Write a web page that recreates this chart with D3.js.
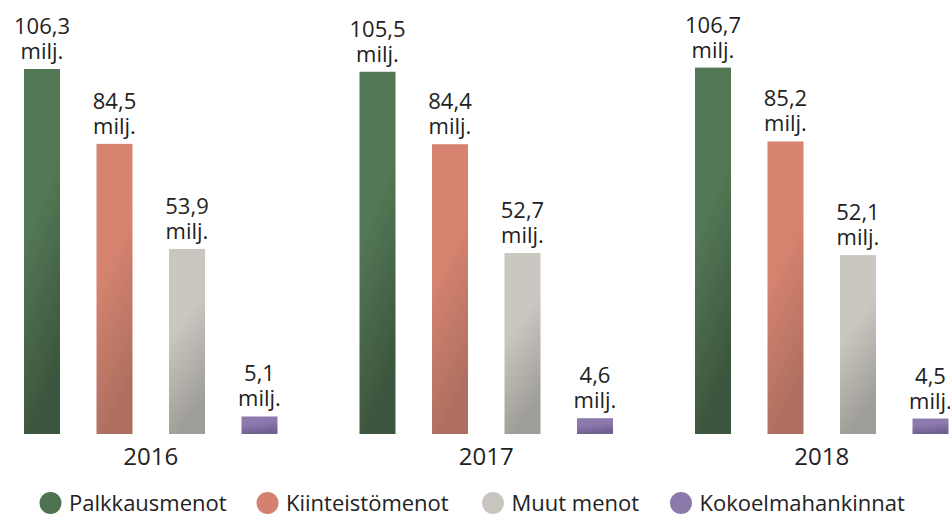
<!DOCTYPE html>
<html lang="fi">
<head>
  <meta charset="UTF-8">
  <title>Menot 2016-2018</title>
  <script src="https://cdn.jsdelivr.net/npm/d3@7"></script>
  <style>
    html, body { margin: 0; padding: 0; background: #ffffff; }
    svg { display: block; font-family: "Open Sans", Lato, sans-serif; }
    .value { fill: #222222; font-size: 22px; text-anchor: middle; }
    .year { fill: #222222; font-size: 24px; text-anchor: middle; }
    .legend text { fill: #222222; font-size: 22px; }
  </style>
</head>
<body>
  <div class="chart"></div>
  <script>
    // data
    const years = ['2016', '2017', '2018'];
    const series = ['Palkkausmenot', 'Kiinteistömenot', 'Muut menot', 'Kokoelmahankinnat'];
    const palkkaus = [106.3, 105.5, 106.7];
    const kiinteisto = [84.5, 84.4, 85.2];
    const muut = [53.9, 52.7, 52.1];
    const kokoelma = [5.1, 4.6, 4.5];

    const values = [palkkaus, kiinteisto, muut, kokoelma];
    const colorsTop = ['#537855', '#d6846f', '#cac7c1', '#8c7aae'];
    const colorsBottom = ['#3c553e', '#ae6f60', '#9f9d97', '#6d618e'];
    const legendColors = ['#4f7351', '#d4816f', '#c9c6c0', '#8a79ab'];

    const rows = [];
    years.forEach(function(y, i) {
      series.forEach(function(s, j) {
        rows.push({ year: y, series: s, idx: j, value: values[j][i] });
      });
    });

    const width = 950, height = 516;
    const svg = d3.select('.chart')
      .append('svg')
      .attr('width', width)
      .attr('height', height);

    // gradients for the bars
    const defs = svg.append('defs');
    series.forEach(function(s, j) {
      const g = defs.append('linearGradient')
        .attr('id', 'grad' + j)
        .attr('x1', '0').attr('y1', '0')
        .attr('x2', '0.25').attr('y2', '1');
      g.append('stop').attr('offset', '0%').attr('stop-color', colorsTop[j]);
      g.append('stop').attr('offset', '45%').attr('stop-color', colorsTop[j]);
      g.append('stop').attr('offset', '100%').attr('stop-color', colorsBottom[j]);
    });

    const x0 = d3.scaleBand()
      .domain(years)
      .range([24, 948.5])
      .paddingInner(0.2444)
      .paddingOuter(0);

    const x1 = d3.scaleBand()
      .domain(series)
      .range([0, x0.bandwidth()])
      .paddingInner(0.5034)
      .paddingOuter(0);

    const y = d3.scaleLinear()
      .domain([0, 106.3])
      .range([434, 69]);

    const bars = svg.append('g')
      .selectAll('rect')
      .data(rows)
      .enter()
      .append('rect')
      .attr('x', function(d) { return x0(d.year) + x1(d.series) })
      .attr('y', function(d) { return y(d.value) })
      .attr('width', x1.bandwidth())
      .attr('height', function(d) { return y(0) - y(d.value) })
      .attr('fill', function(d) { return 'url(#grad' + d.idx + ')' });

    // value labels
    const labels = svg.append('g')
      .selectAll('text')
      .data(rows)
      .enter()
      .append('text')
      .attr('class', 'value')
      .attr('x', function(d) { return x0(d.year) + x1(d.series) + x1.bandwidth() / 2 })
      .attr('y', function(d) { return y(d.value) - 35 });
    labels.append('tspan')
      .text(function(d) { return d3.format('.1f')(d.value).replace('.', ',') });
    labels.append('tspan')
      .attr('x', function(d) { return x0(d.year) + x1(d.series) + x1.bandwidth() / 2 })
      .attr('dy', 25)
      .text('milj.');

    // year labels
    svg.append('g')
      .selectAll('text')
      .data(years)
      .enter()
      .append('text')
      .attr('class', 'year')
      .attr('x', function(d) { return x0(d) + x0.bandwidth() / 2 })
      .attr('y', 465)
      .text(function(d) { return d });

    // legend
    const legendX = [50.5, 267.5, 493, 681];
    const legend = svg.append('g')
      .attr('class', 'legend')
      .selectAll('g')
      .data(series)
      .enter()
      .append('g')
      .attr('transform', function(d, i) { return 'translate(' + legendX[i] + ', 503)' });
    legend.append('circle')
      .attr('r', 11)
      .attr('fill', function(d, i) { return legendColors[i] });
    legend.append('text')
      .attr('x', 18.5)
      .attr('y', 8)
      .text(function(d) { return d });
  </script>
</body>
</html>
